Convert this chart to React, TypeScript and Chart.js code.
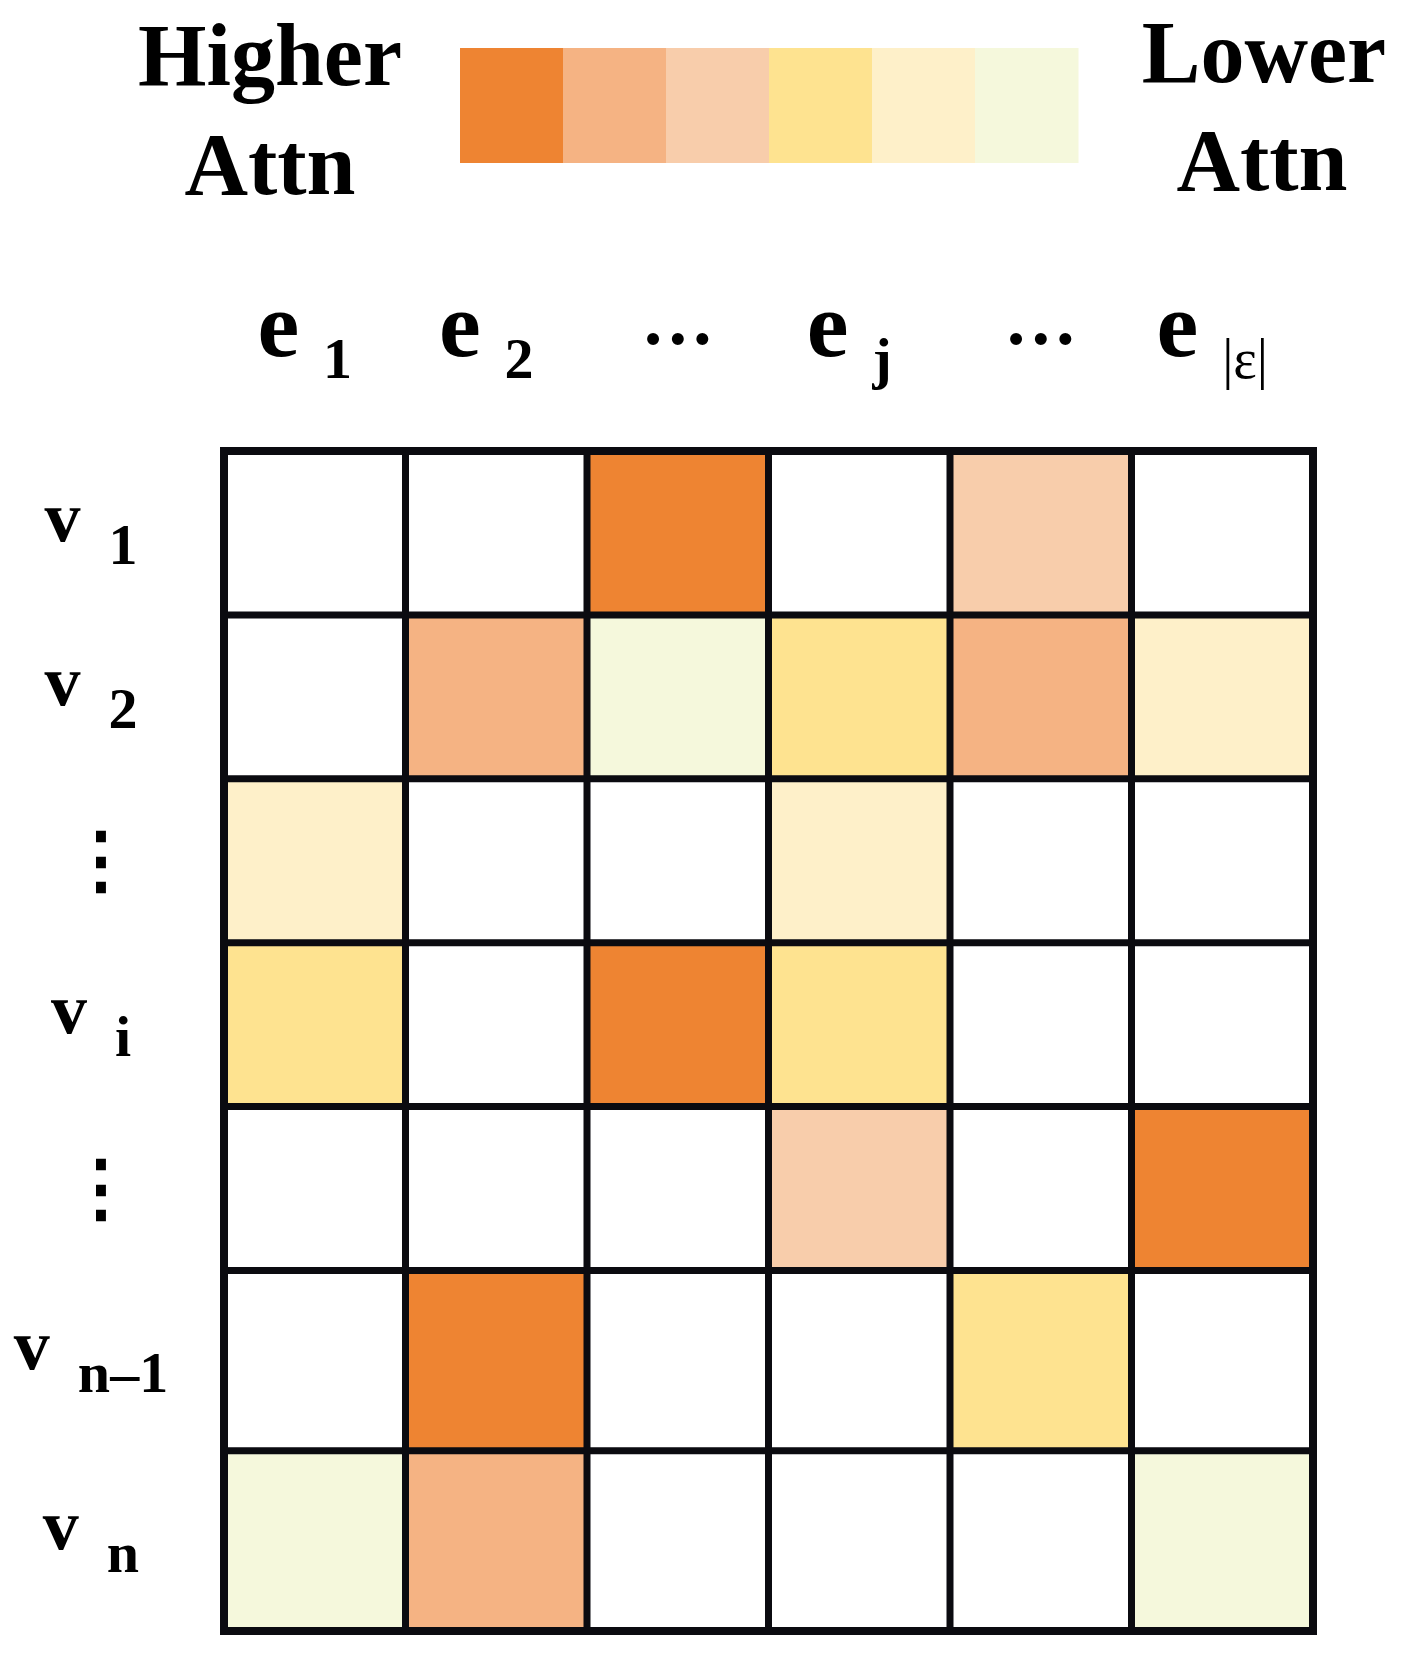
import React, { useEffect, useRef } from "react";
import { Chart, registerables } from "chart.js";

Chart.register(...registerables);

// ---- data ----
const columnKeys = ["e1", "e2", "dots1", "ej", "dots2", "eE"];
const columnMain = ["e", "e", "···", "e", "···", "e"];
const columnSub = ["1", "2", "", "j", "", "|ε|"];

const rowKeys = ["v1", "v2", "vdots1", "vi", "vdots2", "vn-1", "vn"];
const rowMain = ["v", "v", "⋮", "v", "⋮", "v", "v"];
const rowSub = ["1", "2", "", "i", "", "n–1", "n"];
const rowSpans = [1, 1, 1, 1, 1, 1.1, 1.1];

// attention level per cell: 0 = none, 1 = highest ... 6 = lowest
const rowV1 = [0, 0, 1, 0, 3, 0];
const rowV2 = [0, 2, 6, 4, 2, 5];
const rowDots1 = [5, 0, 0, 5, 0, 0];
const rowVi = [4, 0, 1, 4, 0, 0];
const rowDots2 = [0, 0, 0, 3, 0, 1];
const rowVn1 = [0, 1, 0, 0, 4, 0];
const rowVn = [6, 2, 0, 0, 0, 6];
const levels = [rowV1, rowV2, rowDots1, rowVi, rowDots2, rowVn1, rowVn];

const palette = ["#FFFFFF", "#EE8432", "#F5B383", "#F8CDAB", "#FEE390", "#FEF0C9", "#F5F8DC"];
const legendLevels = [1, 2, 3, 4, 5, 6];
const legendLeft = ["Higher", "Attn"];
const legendRight = ["Lower", "Attn"];

const SERIF = "'Liberation Serif', 'Times New Roman', serif";

export default function App() {
  const canvasRef = useRef<HTMLCanvasElement | null>(null);

  useEffect(() => {
    const canvas = canvasRef.current;
    if (!canvas) return;
    const edges: number[] = [0];
    rowSpans.forEach((s) => edges.push(edges[edges.length - 1] + s));
    const total = edges[edges.length - 1];

    const gridPlugin = {
      id: "gridLines",
      afterDatasetsDraw(chart: any) {
        const { ctx, scales } = chart;
        const xs = scales.x;
        const ys = scales.y;
        const left = xs.getPixelForValue(-0.5);
        const right = xs.getPixelForValue(columnKeys.length - 0.5);
        const top = ys.getPixelForValue(edges[0]);
        const bottom = ys.getPixelForValue(total);
        ctx.save();
        ctx.strokeStyle = "#0b0b10";
        ctx.lineWidth = 7;
        ctx.beginPath();
        for (let i = 1; i < columnKeys.length; i++) {
          const x = xs.getPixelForValue(i - 0.5);
          ctx.moveTo(x, top);
          ctx.lineTo(x, bottom);
        }
        for (let k = 1; k < edges.length - 1; k++) {
          const y = ys.getPixelForValue(edges[k]);
          ctx.moveTo(left, y);
          ctx.lineTo(right, y);
        }
        ctx.stroke();
        ctx.lineWidth = 8;
        ctx.strokeRect(left, top, right - left, bottom - top);
        ctx.restore();
      },
    };

    const labelPlugin = {
      id: "labels",
      afterDraw(chart: any) {
        const { ctx, scales } = chart;
        const xs = scales.x;
        const ys = scales.y;
        ctx.save();
        ctx.fillStyle = "#000";
        ctx.textBaseline = "alphabetic";

        // legend texts
        ctx.font = `bold 88px ${SERIF}`;
        ctx.textAlign = "center";
        ctx.fillText(legendLeft[0], 270, 85);
        ctx.fillText(legendLeft[1], 270, 194);
        ctx.fillText(legendRight[0], 1264, 82);
        ctx.fillText(legendRight[1], 1262, 190);

        // legend colour bar
        const barL = 460, barR = 1078, barT = 48, barB = 163;
        const w = (barR - barL) / legendLevels.length;
        legendLevels.forEach((lv, i) => {
          ctx.fillStyle = palette[lv];
          ctx.fillRect(barL + i * w, barT, w + 0.5, barB - barT);
        });

        // column labels
        ctx.fillStyle = "#000";
        ctx.textAlign = "left";
        columnKeys.forEach((_, i) => {
          const cx = xs.getPixelForValue(i);
          if (!columnSub[i]) {
            ctx.font = `bold 74px ${SERIF}`;
            const mw = ctx.measureText(columnMain[i]).width;
            ctx.fillText(columnMain[i], cx - mw / 2, 364);
            return;
          }
          ctx.font = `bold 94px ${SERIF}`;
          const mw = ctx.measureText(columnMain[i]).width;
          const subFont = columnSub[i].includes("ε") ? `56px ${SERIF}` : `bold 58px ${SERIF}`;
          ctx.font = subFont;
          const sw = ctx.measureText(columnSub[i]).width;
          const gap = 24;
          const startX = cx - 10 - (mw + gap + sw) / 2;
          ctx.font = `bold 94px ${SERIF}`;
          ctx.fillText(columnMain[i], startX, 356);
          ctx.font = subFont;
          ctx.fillText(columnSub[i], startX + mw + gap, 378);
        });

        // row labels
        rowKeys.forEach((_, r) => {
          const cy = (ys.getPixelForValue(edges[r]) + ys.getPixelForValue(edges[r + 1])) / 2;
          if (!rowSub[r]) {
            ctx.font = `bold 74px 'DejaVu Serif', ${SERIF}`;
            ctx.textAlign = "center";
            ctx.fillText(rowMain[r], 101, cy + 24);
            ctx.textAlign = "left";
            return;
          }
          ctx.font = `bold 72px ${SERIF}`;
          const mw = ctx.measureText(rowMain[r]).width;
          ctx.font = `bold 58px ${SERIF}`;
          const sw = ctx.measureText(rowSub[r]).width;
          const gap = 28;
          const startX = 91 - (mw + gap + sw) / 2;
          ctx.font = `bold 72px ${SERIF}`;
          ctx.fillText(rowMain[r], startX, cy + 8);
          ctx.font = `bold 58px ${SERIF}`;
          ctx.fillText(rowSub[r], startX + mw + gap, cy + 31);
        });
        ctx.restore();
      },
    };

    const chart = new Chart(canvas, {
      type: "bar",
      data: {
        labels: columnKeys,
        datasets: rowKeys.map((key, r) => ({
          label: key,
          data: levels[r].map(() => [edges[r], edges[r + 1]]) as any,
          backgroundColor: levels[r].map((lv) => palette[lv]),
          borderWidth: 0,
          grouped: false,
          barPercentage: 1,
          categoryPercentage: 1,
        })),
      },
      options: {
        responsive: false,
        animation: false,
        devicePixelRatio: 1,
        layout: { padding: { left: 224, right: 95, top: 451, bottom: 39 } },
        scales: {
          x: { display: false, offset: true },
          y: { display: false, min: 0, max: total, reverse: true },
        },
        plugins: { legend: { display: false }, tooltip: { enabled: false } },
      },
      plugins: [gridPlugin, labelPlugin],
    });
    return () => chart.destroy();
  }, []);

  return (
    <div style={{ position: "absolute", left: 0, top: 0, width: 1408, height: 1670, background: "#fff" }}>
      <canvas ref={canvasRef} width={1408} height={1670} style={{ display: "block" }} />
    </div>
  );
}
